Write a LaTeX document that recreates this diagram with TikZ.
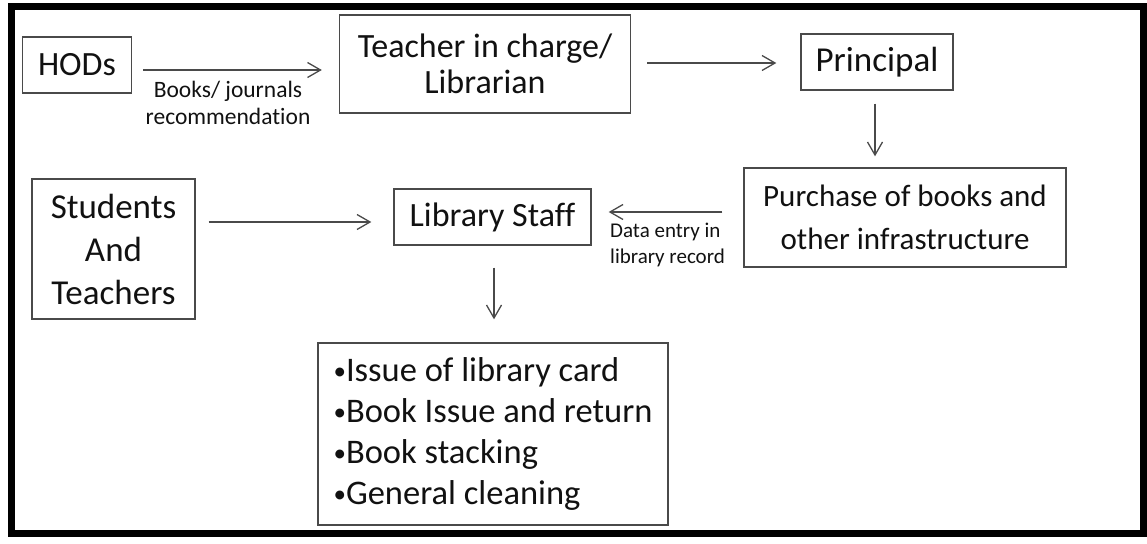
\documentclass[tikz,border=0pt]{standalone}
\usepackage{fontspec}
\setmainfont{Carlito}[Ligatures={NoCommon}]
\usetikzlibrary{arrows.meta}
\definecolor{ln}{HTML}{4A4A4A}
\definecolor{tx}{HTML}{111111}
\newcommand\smallbul{{\fontsize{25}{25}\selectfont\raisebox{2.5pt}{\textbullet}}}
\tikzset{
  box/.style={draw=ln, line width=1.4pt, rectangle, inner sep=0pt, align=center, text=tx,
    font=\fontsize{34}{36}\selectfont},
  arr/.style={draw=ln, line width=1.3pt, -{Straight Barb[length=13pt,width=15pt,line width=1.3pt]}},
  lbl/.style={text=tx, inner sep=0pt}
}
\begin{document}
\begin{tikzpicture}[x=1pt,y=-1pt]
\useasboundingbox (0,0) rectangle (1147,543);
\draw[line width=7pt, black] (11,6.5) rectangle (1143.5,533.5);

\node[box, minimum width=109pt, minimum height=56pt] (hod) at (77,65) {HODs};
\node[box, minimum width=291pt, minimum height=98pt] (tch) at (485,64) {Teacher in charge/\\Librarian};
\node[box, minimum width=152pt, minimum height=56pt, font=\fontsize{35}{36}\selectfont] (pri) at (877,62) {Principal};
\node[box, minimum width=322pt, minimum height=99pt, font=\fontsize{31}{43}\selectfont] (pur) at (905,217.5) {Purchase of books and\\other infrastructure};
\node[box, minimum width=197pt, minimum height=56pt] (lib) at (492.5,217) {Library Staff};
\node[box, minimum width=163pt, minimum height=140pt, font=\fontsize{35}{43}\selectfont] (stu) at (113.5,249) {Students\\And\\Teachers};
\node[box, minimum width=350pt, minimum height=182pt, align=left, font=\fontsize{34.5}{41}\selectfont] (bul) at (493,434)
  {\smallbul Issue of library card\\\smallbul Book Issue and return\\\smallbul Book stacking\\\smallbul General cleaning};

\coordinate (a1) at ([yshift=-5pt]hod.east);
\draw[arr, shorten <=11pt, shorten >=17pt] (a1) -- (a1 -| tch.west);
\node[lbl, align=center, font=\fontsize{23.5}{27}\selectfont] (l1) at (228,103) {Books/ journals\\recommendation};

\coordinate (a2) at ([yshift=1pt]tch.east);
\draw[arr, shorten <=16pt, shorten >=24pt] (a2) -- (a2 -| pri.west);

\coordinate (a3) at ([xshift=-2pt]pri.south);
\draw[arr, shorten <=13pt, shorten >=11pt] (a3) -- (a3 |- pur.north);

\coordinate (a4) at ([yshift=5.5pt]pur.west);
\draw[arr, shorten <=21pt, shorten >=17pt] (a4) -- (a4 -| lib.east);
\node[lbl, align=left, anchor=west, font=\fontsize{21}{26}\selectfont] (l2) at (610,245) {Data entry in\\library record};

\coordinate (a5) at ([yshift=27pt]stu.east);
\draw[arr, shorten <=13pt, shorten >=22pt] (a5) -- (a5 -| lib.west);

\coordinate (a6) at ([xshift=1.5pt]lib.south);
\draw[arr, shorten <=22pt, shorten >=23pt] (a6) -- (a6 |- bul.north);
\end{tikzpicture}
\end{document}
